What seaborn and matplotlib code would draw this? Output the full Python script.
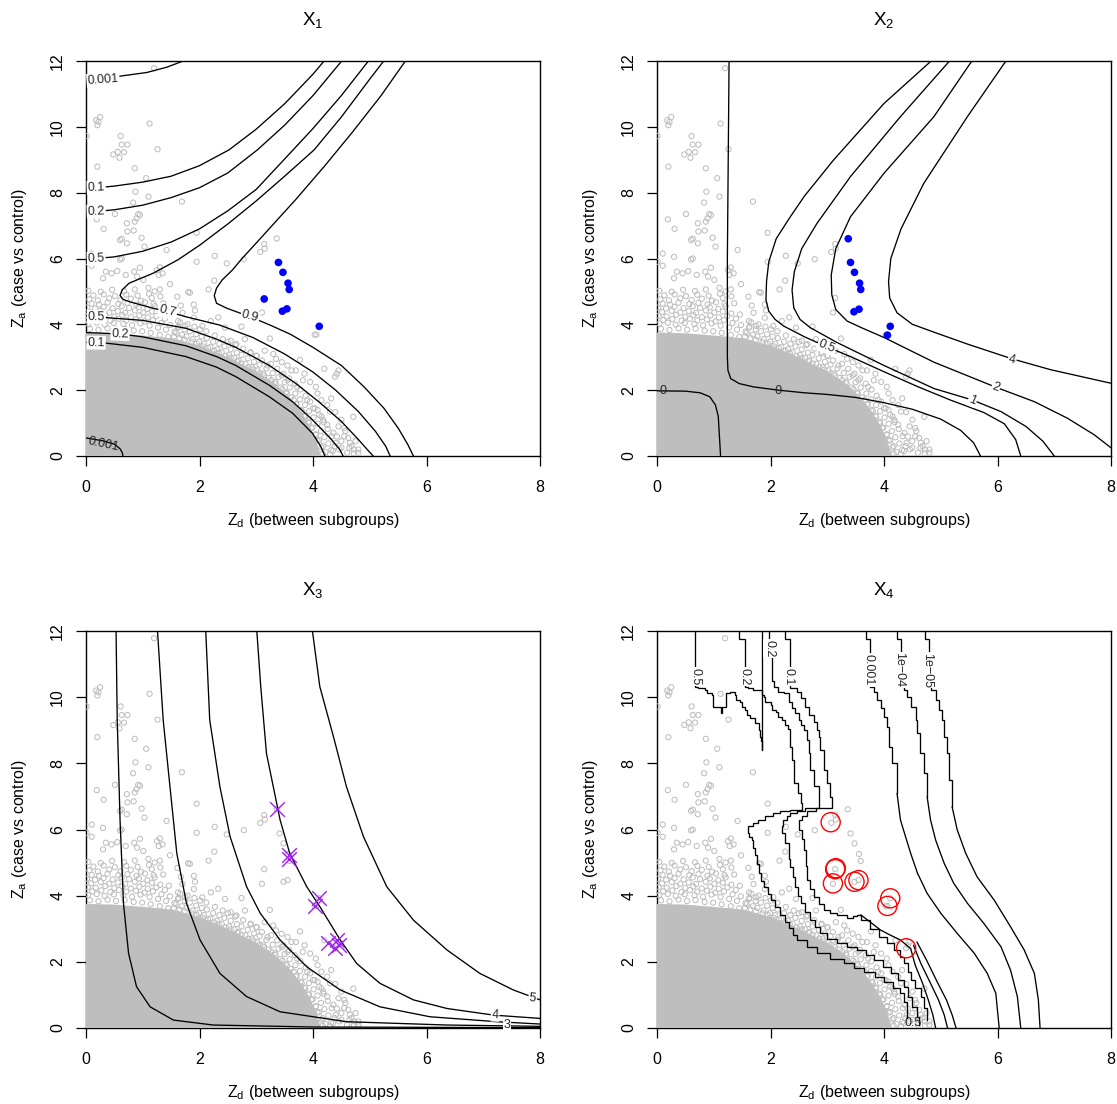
import matplotlib
matplotlib.use("Agg")
import matplotlib.pyplot as plt
import seaborn as sns
import pandas as pd

# ---------------------------------------------------------------
# Background SNP cloud (shared by all four panels)
# ---------------------------------------------------------------
core_outline = [(0, 0), (0, 3.75), (0.5, 3.73), (1.0, 3.66), (1.5, 3.58), (2.0, 3.36), (2.5, 3.0),
                (3.0, 2.57), (3.3, 2.24), (3.6, 1.77), (3.8, 1.32), (3.95, 0.88), (4.06, 0.45), (4.14, 0)]

edge_left = [
    (0.07, 3.86), (0.22, 3.83), (0.38, 3.88), (0.53, 3.84), (0.68, 3.87), (0.84, 3.81), (0.99, 3.79),
    (1.14, 3.74), (1.3, 3.68), (1.45, 3.62),
    (0.04, 4.02), (0.19, 4.05), (0.33, 3.99), (0.49, 4.04), (0.66, 4.01), (0.81, 3.97), (0.96, 4.03),
    (1.12, 3.96), (1.27, 3.9), (1.41, 3.84), (1.56, 3.78),
    (0.11, 4.13), (0.27, 4.16), (0.43, 4.11), (0.58, 4.17), (0.71, 4.12), (0.88, 4.15), (1.03, 4.09),
    (1.18, 4.13), (1.33, 4.04), (1.48, 3.98), (1.63, 3.93),
    (0.03, 4.26), (0.17, 4.24), (0.34, 4.29), (0.5, 4.23), (0.64, 4.28), (0.79, 4.22), (0.94, 4.27),
    (1.09, 4.21), (1.24, 4.25), (1.39, 4.17),
    (0.09, 4.37), (0.26, 4.41), (0.41, 4.36), (0.56, 4.4), (0.69, 4.35), (0.86, 4.42), (1.01, 4.36),
    (1.16, 4.39), (1.31, 4.33), (1.46, 4.3),
    (0.02, 4.51), (0.16, 4.48), (0.31, 4.53), (0.47, 4.49), (0.63, 4.55), (0.76, 4.5), (0.93, 4.52),
    (1.08, 4.47), (1.21, 4.55),
    (0.1, 4.63), (0.23, 4.6), (0.38, 4.66), (0.57, 4.62), (0.73, 4.65), (0.89, 4.6), (1.04, 4.67),
    (1.19, 4.62), (1.36, 4.64),
    (0.06, 4.76), (0.21, 4.73), (0.41, 4.79), (0.61, 4.74), (0.79, 4.78), (0.97, 4.72), (1.16, 4.8),
    (0.13, 4.88), (0.31, 4.91), (0.51, 4.86), (0.71, 4.9), (0.91, 4.87), (1.11, 4.93), (1.31, 4.85),
    (0.04, 5.02), (0.26, 4.99), (0.46, 5.05), (0.67, 5.01), (0.86, 5.06), (1.21, 5.0),
]

edge_rim = [
    (1.55, 3.63), (1.65, 3.58), (1.74, 3.53), (1.86, 3.47), (1.95, 3.42), (2.06, 3.33), (2.15, 3.28),
    (2.26, 3.19), (2.34, 3.13), (2.46, 3.04), (2.55, 2.98), (2.66, 2.88), (2.74, 2.81), (2.86, 2.7),
    (2.95, 2.63), (3.06, 2.52), (3.14, 2.44), (3.26, 2.31), (3.34, 2.2), (3.46, 2.03), (3.54, 1.9),
    (3.66, 1.7), (3.71, 1.57), (3.8, 1.37), (3.85, 1.22), (3.93, 1.0), (3.97, 0.86), (4.05, 0.64),
    (4.08, 0.47), (4.15, 0.26), (4.17, 0.07),
]

edge_mid = [
    (1.58, 3.74), (1.69, 3.68), (1.77, 3.63), (1.88, 3.55), (1.99, 3.47), (2.08, 3.41), (2.19, 3.31),
    (2.31, 3.24), (2.39, 3.15), (2.52, 3.07), (2.61, 2.98), (2.69, 2.9), (2.81, 2.8), (2.92, 2.7),
    (3.02, 2.6),
    (1.62, 3.9), (1.74, 3.84), (1.83, 3.79), (1.94, 3.7), (2.04, 3.63), (2.13, 3.58), (2.24, 3.47),
    (2.35, 3.41), (2.44, 3.33), (2.55, 3.24), (2.66, 3.14), (2.74, 3.07), (2.85, 2.97), (2.96, 2.86),
    (3.06, 2.78),
    (1.66, 4.06), (1.79, 4.0), (1.91, 3.93), (2.01, 3.85), (2.12, 3.79), (2.27, 3.66), (2.41, 3.55),
    (2.5, 3.47), (2.63, 3.37), (2.77, 3.26), (2.9, 3.13), (3.01, 3.04),
]

edge_right = [
    (3.12, 2.5), (3.22, 2.37), (3.33, 2.25), (3.43, 2.08), (3.52, 1.93), (3.61, 1.78), (3.7, 1.57),
    (3.78, 1.4), (3.86, 1.2), (3.92, 1.04), (3.99, 0.86), (4.05, 0.66), (4.11, 0.48), (4.17, 0.3),
    (4.22, 0.12),
    (3.18, 2.66), (3.29, 2.52), (3.39, 2.4), (3.5, 2.24), (3.59, 2.08), (3.69, 1.9), (3.77, 1.72),
    (3.86, 1.55), (3.93, 1.36), (4.01, 1.17), (4.08, 0.98), (4.14, 0.76), (4.2, 0.57), (4.27, 0.38),
    (4.32, 0.18),
    (3.26, 2.8), (3.37, 2.65), (3.48, 2.5), (3.58, 2.36), (3.68, 2.2), (3.78, 2.02), (3.87, 1.83),
    (3.95, 1.65), (4.03, 1.45), (4.11, 1.25), (4.19, 1.03), (4.26, 0.82), (4.33, 0.6), (4.4, 0.4),
    (4.46, 0.2),
]

edge_outer = [
    (1.62, 4.1), (1.7, 4.35), (1.75, 3.95), (1.9, 4.2), (2.05, 3.95), (2.2, 4.1), (2.45, 3.9),
    (2.55, 3.5), (2.65, 3.4), (2.8, 3.55), (2.9, 3.15), (3.0, 3.05), (3.1, 2.9), (3.2, 2.75),
    (3.35, 2.95), (3.45, 2.45), (3.55, 2.3), (3.62, 2.6), (3.72, 2.1), (3.82, 2.3), (3.9, 1.7),
    (4.0, 1.45), (4.08, 1.9), (4.15, 1.2), (4.25, 0.95), (4.3, 1.35), (4.35, 0.15), (4.45, 0.9),
    (4.5, 0.25), (4.55, 0.6), (4.6, 0.1), (4.65, 0.4), (4.72, 0.2), (4.8, 0.1),
    (4.3, 0.05), (4.38, 0.3), (4.36, 0.7), (4.5, 0.45), (4.55, 0.85), (4.62, 0.55), (4.68, 0.3),
    (4.75, 0.45), (4.5, 1.1), (4.25, 1.55), (4.32, 1.75), (4.15, 1.7), (4.05, 2.1), (3.95, 2.25),
    (3.85, 2.5), (3.7, 2.6), (3.55, 2.75), (3.45, 2.85), (3.3, 3.1), (3.15, 3.2),
]

outlier_snps = [
    (1.20, 11.78), (0.18, 10.2), (0.25, 10.3), (0.2, 10.05), (0.22, 10.15), (1.12, 10.1), (0.01, 9.72),
    (0.61, 9.72), (0.63, 9.46), (0.73, 9.46), (0.48, 9.16), (0.59, 9.06), (0.67, 9.23), (0.56, 9.24),
    (0.2, 8.79), (1.26, 9.32), (0.86, 8.74), (1.06, 8.44), (0.87, 8.03), (1.1, 7.88), (1.69, 7.73),
    (0.83, 7.70), (0.92, 7.35), (0.89, 7.22), (0.95, 7.32), (0.51, 7.35), (0.19, 7.19), (0.72, 7.07),
    (0.86, 7.12), (0.31, 6.9), (0.73, 6.82), (0.84, 6.85), (1.95, 6.78), (0.6, 6.56), (0.63, 6.6),
    (0.98, 6.63), (0.72, 6.46), (1.03, 6.36), (1.42, 6.26), (3.14, 6.44), (3.36, 6.61), (3.07, 6.2),
    (3.15, 6.3), (0.63, 6.0), (0.6, 5.97), (1.95, 5.9), (2.27, 6.08), (2.78, 5.98), (2.48, 5.85),
    (0.01, 5.9), (0.1, 5.78), (0.35, 5.6), (0.45, 5.55), (0.55, 5.62), (0.3, 5.4), (0.7, 5.5),
    (0.85, 5.6), (0.9, 5.45), (1.3, 5.73), (1.25, 5.65), (1.35, 5.55), (1.28, 5.5), (0.95, 5.72),
    (1.48, 5.22), (1.1, 5.11), (1.3, 5.06), (1.01, 5.35), (2.26, 5.33), (2.16, 5.06), (1.8, 4.98),
    (1.83, 4.96), (1.61, 4.84), (1.9, 4.6), (1.92, 4.42), (1.67, 4.57), (2.33, 4.21), (3.1, 4.36),
    (2.74, 3.93), (4.03, 3.68), (3.24, 3.57), (3.77, 2.92), (4.2, 2.65), (4.45, 2.6), (4.42, 2.5),
    (4.39, 1.33), (4.71, 1.19), (4.57, 0.76), (4.42, 0.59), (4.8, 0.2), (4.72, 0.08), (4.64, 0.25),
    (4.08, 1.4), (4.18, 1.1), (0.1, 6.15), (0.3, 6.05), (3.41, 5.88), (3.48, 5.58), (3.56, 5.26),
    (3.59, 5.05), (3.14, 4.8), (3.48, 4.42), (3.55, 4.47), (4.11, 3.92), (4.06, 3.69), (4.39, 2.41),
]

# ---------------------------------------------------------------
# Highlighted SNPs for each model
# ---------------------------------------------------------------
x1_hits = [(3.39, 5.88), (3.47, 5.58), (3.56, 5.25), (3.58, 5.06), (3.14, 4.77),
           (3.46, 4.40), (3.54, 4.47), (4.11, 3.94)]
x2_hits = [(3.37, 6.60), (3.41, 5.88), (3.48, 5.58), (3.57, 5.25), (3.59, 5.06),
           (3.47, 4.38), (3.56, 4.46), (4.11, 3.94), (4.06, 3.67)]
x3_hits = [(3.36, 6.61), (3.57, 5.23), (3.58, 5.10), (4.11, 3.94), (4.04, 3.70),
           (4.27, 2.58), (4.42, 2.66), (4.45, 2.51), (4.38, 2.41)]
x4_hits = [(3.06, 6.22), (3.14, 4.80), (3.15, 4.83), (3.10, 4.37), (3.48, 4.42),
           (3.55, 4.47), (4.11, 3.92), (4.06, 3.69), (4.39, 2.41)]

# ---------------------------------------------------------------
# Contour lines, model X1
# ---------------------------------------------------------------
x1_p001_top = [(0, 11.35), (0.3, 11.45), (0.6, 11.54), (1.07, 11.65), (1.42, 11.81), (1.76, 12.03)]
x1_p001_bot = [(0, 0.55), (0.3, 0.46), (0.5, 0.36), (0.6, 0.22), (0.64, 0.1), (0.65, 0)]
x1_p1_up = [(0, 8.12), (0.5, 8.2), (1.0, 8.32), (1.5, 8.5), (2.0, 8.82), (2.52, 9.3), (3.0, 9.93),
            (3.5, 10.7), (4.0, 11.6), (4.21, 12.03)]
x1_p2_up = [(0, 7.4), (0.5, 7.48), (1.0, 7.62), (1.5, 7.85), (2.0, 8.15), (2.5, 8.6), (3.02, 9.3),
            (3.5, 10.05), (4.0, 10.95), (4.52, 12.03)]
x1_p5_up = [(0, 5.97), (0.5, 6.05), (1.0, 6.22), (1.5, 6.5), (2.0, 6.9), (2.5, 7.45), (3.0, 8.1),
            (3.65, 9.3), (4.0, 9.95), (4.5, 10.95), (4.99, 12.03)]
x1_p1_lo = [(0, 3.45), (0.3, 3.44), (1.0, 3.3), (1.76, 3.02), (2.3, 2.7), (2.64, 2.41), (3.23, 1.8),
            (3.64, 1.3), (3.99, 0.69), (4.14, 0.28), (4.21, 0)]
x1_p2_lo = [(0, 3.75), (0.59, 3.71), (1.0, 3.62), (1.76, 3.35), (2.3, 3.02), (2.64, 2.75), (3.23, 2.15),
            (3.64, 1.65), (3.99, 1.1), (4.3, 0.55), (4.47, 0.2), (4.53, 0)]
x1_p5_lo = [(0, 4.25), (1.0, 4.12), (1.76, 3.88), (2.3, 3.55), (2.64, 3.3), (3.23, 2.75), (3.7, 2.2),
            (4.1, 1.65), (4.5, 1.05), (4.8, 0.5), (4.98, 0.15), (5.06, 0)]
x1_p7 = [(5.26, 12.03), (5.0, 11.45), (4.5, 10.3), (4.02, 9.3), (3.5, 8.5), (3.0, 7.75), (2.5, 7.05),
         (2.0, 6.4), (1.62, 5.96), (1.18, 5.55), (0.76, 5.25), (0.64, 5.05), (0.6, 4.88), (0.65, 4.76),
         (0.76, 4.69), (1.18, 4.49), (1.44, 4.39), (1.76, 4.23), (2.35, 3.98), (2.94, 3.6), (3.5, 3.1),
         (4.0, 2.55), (4.4, 2.0), (4.8, 1.35), (5.1, 0.75), (5.28, 0.3), (5.36, 0)]
x1_p9 = [(5.64, 12.03), (5.2, 10.95), (4.7, 9.85), (4.2, 8.8), (3.7, 7.8), (3.2, 6.85), (2.73, 5.96),
         (2.58, 5.65), (2.4, 5.35), (2.3, 5.1), (2.26, 4.87), (2.3, 4.64), (2.48, 4.49), (2.89, 4.23),
         (3.24, 3.98), (3.6, 3.7), (4.0, 3.3), (4.5, 2.75), (4.9, 2.1), (5.25, 1.45), (5.5, 0.85),
         (5.67, 0.35), (5.77, 0)]
x1_labels = [("0.001", 0.3, 11.43, 4, True), ("0.1", 0.18, 8.15, 2, True), ("0.2", 0.18, 7.43, 2, True),
             ("0.5", 0.18, 6.0, 2, True), ("0.5", 0.18, 4.23, -1, True), ("0.2", 0.6, 3.71, -2, True),
             ("0.1", 0.18, 3.44, -1, True), ("0.7", 1.44, 4.39, -14, True), ("0.9", 2.89, 4.23, -15, True),
             ("0.001", 0.3, 0.36, -12, False)]

# ---------------------------------------------------------------
# Contour lines, model X2
# ---------------------------------------------------------------
x2_c0_main = [(1.27, 12.03), (1.26, 10.0), (1.25, 8.0), (1.24, 6.0), (1.24, 4.0), (1.24, 3.0),
              (1.25, 2.6), (1.3, 2.35), (1.45, 2.2), (1.7, 2.1), (2.14, 2.0), (2.6, 1.92), (3.0, 1.87),
              (3.5, 1.78), (4.0, 1.62), (4.5, 1.42), (5.0, 1.12), (5.35, 0.78), (5.58, 0.4), (5.7, 0)]
x2_c0_small = [(0, 1.98), (0.5, 1.97), (0.76, 1.92), (0.93, 1.8), (1.03, 1.55), (1.08, 1.2),
               (1.1, 0.6), (1.12, 0)]
x2_c05 = [(4.85, 12.03), (4.0, 10.71), (3.11, 8.99), (2.6, 7.9), (2.35, 7.27), (2.1, 6.6), (1.97, 5.9),
          (1.93, 5.3), (1.92, 4.74), (1.97, 4.4), (2.08, 4.15), (2.23, 3.95), (2.6, 3.62), (2.99, 3.32),
          (3.41, 3.02), (4.0, 2.56), (4.59, 2.11), (5.17, 1.7), (5.76, 1.32), (6.12, 0.98), (6.32, 0.5),
          (6.41, 0)]
x2_c1 = [(5.17, 12.03), (4.29, 10.31), (3.41, 8.49), (2.82, 7.07), (2.55, 6.3), (2.42, 5.6), (2.38, 5.04),
         (2.41, 4.5), (2.52, 4.15), (2.7, 3.9), (3.17, 3.45), (4.0, 2.75), (4.88, 2.05), (5.56, 1.7),
         (6.06, 1.35), (6.5, 0.9), (6.8, 0.45), (7.0, 0)]
x2_c2 = [(5.56, 12.03), (4.88, 10.31), (4.0, 8.59), (3.41, 7.27), (3.15, 6.3), (3.07, 5.5), (3.08, 4.9),
         (3.15, 4.45), (3.35, 4.1), (3.6, 3.9), (4.0, 3.6), (4.88, 2.85), (5.97, 2.09), (6.65, 1.65),
         (7.23, 1.15), (7.7, 0.65), (8.0, 0.25)]
x2_c4 = [(6.16, 12.03), (5.47, 10.31), (4.7, 8.28), (4.3, 6.9), (4.12, 6.0), (4.08, 5.3), (4.1, 4.8),
         (4.23, 4.35), (4.5, 4.0), (4.9, 3.75), (5.47, 3.4), (6.26, 2.95), (6.94, 2.62), (8.0, 2.21)]
x2_labels = [("0", 0.11, 1.98, 0, False), ("0", 2.14, 1.98, -2, False), ("0.5", 2.99, 3.32, -22, True),
             ("1", 5.56, 1.70, -22, True), ("2", 5.97, 2.09, -20, True), ("4", 6.26, 2.93, -13, True)]

# ---------------------------------------------------------------
# Contour lines, model X3
# ---------------------------------------------------------------
x3_c1 = [(0.53, 12.0), (0.55, 9.31), (0.6, 6.29), (0.66, 3.77), (0.75, 2.26), (0.89, 1.25),
         (1.13, 0.64), (1.54, 0.24), (2.24, 0.09), (4.0, 0.03), (8.0, 0.01)]
x3_c2 = [(1.26, 12.0), (1.36, 9.31), (1.48, 7.29), (1.6, 5.28), (1.77, 3.77), (2.01, 2.66), (2.36, 1.65),
         (2.83, 0.95), (3.42, 0.49), (4.59, 0.19), (6.36, 0.09), (8.0, 0.05)]
x3_c3 = [(2.11, 12.0), (2.18, 9.31), (2.36, 7.29), (2.54, 5.78), (2.83, 4.27), (3.07, 3.47), (3.42, 2.66),
         (3.89, 1.85), (4.48, 1.15), (5.18, 0.64), (6.06, 0.34), (7.24, 0.19), (8.0, 0.12)]
x3_c4 = [(3.01, 12.0), (3.08, 10.3), (3.18, 8.3), (3.42, 6.29), (3.59, 5.28), (3.89, 4.27), (4.12, 3.67),
         (4.48, 2.66), (4.77, 1.95), (5.18, 1.35), (5.77, 0.85), (6.36, 0.59), (7.18, 0.39), (8.0, 0.29)]
x3_c5 = [(3.99, 12.0), (4.12, 10.32), (4.36, 8.81), (4.59, 7.29), (4.89, 5.78), (5.3, 4.27), (5.77, 3.26),
         (6.36, 2.36), (6.94, 1.65), (7.53, 1.15), (8.0, 0.85)]
x3_labels = [("5", 7.87, 0.9, -6, True), ("4", 7.21, 0.4, -3, True), ("3", 7.42, 0.1, 0, True)]

# ---------------------------------------------------------------
# Contour lines, model X4 (empirical surface on a coarse grid)
# ---------------------------------------------------------------
x4_j0 = [(0.67, 12.0), (0.67, 10.3), (0.73, 10.27), (0.85, 10.22), (0.88, 10.12), (0.97, 10.07),
         (0.98, 9.71), (1.11, 9.69), (1.13, 9.51), (1.14, 9.69), (1.2, 9.71), (1.22, 10.12),
         (1.29, 10.17), (1.38, 10.07), (1.39, 9.92), (1.47, 9.86), (1.5, 9.71), (1.55, 9.61),
         (1.59, 9.46), (1.64, 9.36), (1.73, 9.21), (1.79, 9.01), (1.82, 8.81), (1.84, 8.66), (1.85, 8.4)]
x4_vert = [(1.85, 12.0), (1.85, 8.4)]
x4_j1 = [(1.45, 12.0), (1.45, 11.75), (1.55, 11.75), (1.55, 10.3), (1.61, 10.27), (1.7, 10.22),
         (1.85, 10.07), (1.89, 10.02), (1.91, 9.86), (2.0, 9.76), (2.03, 9.61), (2.1, 9.56), (2.13, 9.39),
         (2.2, 9.31), (2.26, 9.16), (2.3, 9.03), (2.34, 8.91), (2.35, 8.5), (2.38, 8.1), (2.41, 7.4),
         (2.48, 7.09), (2.53, 6.79), (2.56, 6.6), (2.45, 6.6), (2.35, 6.55), (2.17, 6.5), (2.05, 6.4),
         (1.91, 6.29), (1.78, 6.2), (1.7, 6.1), (1.61, 5.9), (1.62, 5.78), (1.67, 5.68), (1.7, 5.45),
         (1.73, 5.23), (1.76, 4.95), (1.79, 4.68), (1.84, 4.45), (1.88, 4.27), (1.95, 4.05), (2.0, 3.87),
         (2.08, 3.65), (2.17, 3.42), (2.25, 3.2), (2.32, 3.01), (2.4, 2.8), (2.47, 2.66), (2.65, 2.45),
         (2.82, 2.26), (3.05, 2.1), (3.29, 1.95), (3.48, 1.82), (3.65, 1.7), (3.85, 1.55), (4.0, 1.4),
         (4.15, 1.22), (4.29, 1.05), (4.35, 0.8), (4.41, 0.54), (4.41, 0.3)]
x4_j2 = [(1.97, 12.0), (1.97, 11.7), (2.0, 11.2), (2.02, 10.5), (2.06, 10.32), (2.14, 10.17),
         (2.23, 10.12), (2.32, 9.86), (2.38, 9.66), (2.44, 9.51), (2.5, 9.31), (2.53, 9.16), (2.59, 9.01),
         (2.64, 8.71), (2.67, 8.3), (2.7, 7.8), (2.76, 7.3), (2.85, 6.65), (2.7, 6.65), (2.6, 6.55),
         (2.47, 6.49), (2.35, 6.4), (2.29, 6.29), (2.22, 6.1), (2.2, 5.88), (2.26, 5.6), (2.32, 5.38),
         (2.33, 5.1), (2.35, 4.88), (2.4, 4.55), (2.44, 4.27), (2.48, 4.0), (2.53, 3.77), (2.6, 3.5),
         (2.7, 3.26), (2.78, 3.05), (2.88, 2.86), (3.0, 2.7), (3.17, 2.56), (3.35, 2.45), (3.53, 2.36),
         (3.68, 2.22), (3.82, 2.06), (3.98, 1.85), (4.12, 1.65), (4.25, 1.45), (4.35, 1.25), (4.42, 0.95),
         (4.5, 0.64), (4.59, 0.34), (4.62, 0.1)]
x4_j3 = [(2.25, 12.0), (2.25, 11.75), (2.34, 11.75), (2.34, 10.95), (2.35, 10.27), (2.47, 10.17),
         (2.53, 9.97), (2.61, 9.71), (2.67, 9.46), (2.76, 9.26), (2.82, 9.01), (2.85, 8.81), (2.88, 8.4),
         (2.94, 7.8), (3.0, 7.4), (3.05, 6.99), (3.09, 6.65), (2.95, 6.65), (2.8, 6.55), (2.65, 6.4),
         (2.56, 6.29), (2.5, 5.99), (2.55, 5.7), (2.59, 5.38), (2.62, 4.9), (2.65, 4.47), (2.7, 4.2),
         (2.76, 3.97), (2.85, 3.75), (2.94, 3.57), (3.05, 3.48), (3.17, 3.42), (3.35, 3.32), (3.45, 3.38),
         (3.53, 3.42), (3.59, 3.26), (3.75, 3.0), (3.91, 2.76), (4.05, 2.56), (4.18, 2.36), (4.28, 2.15),
         (4.35, 1.95), (4.42, 1.7), (4.47, 1.45), (4.55, 1.2), (4.65, 0.95), (4.7, 0.6), (4.76, 0.24)]
x4_link = [(3.59, 3.42), (3.76, 3.2), (3.94, 2.96), (4.12, 2.8), (4.29, 2.66), (4.47, 2.4)]
x4_s1 = [(4.47, 2.4), (4.55, 1.9), (4.68, 1.35), (4.78, 0.85), (4.86, 0.4), (4.91, 0)]
x4_s2 = [(4.52, 2.5), (4.65, 1.95), (4.82, 1.35), (4.96, 0.85), (5.06, 0.4), (5.12, 0)]
x4_s3 = [(4.58, 2.6), (4.75, 2.05), (4.95, 1.35), (5.1, 0.85), (5.2, 0.4), (5.27, 0)]
x4_f3 = [(3.69, 12.0), (3.69, 11.75), (3.75, 11.75), (3.76, 10.32), (3.82, 10.17), (3.88, 9.91),
         (3.94, 9.66), (4.0, 9.41), (4.06, 9.11), (4.08, 8.5), (4.14, 8.0), (4.23, 7.09), (4.29, 6.29),
         (4.38, 5.78), (4.47, 5.28), (4.59, 4.68), (4.76, 4.07), (5.0, 3.47), (5.29, 2.86), (5.59, 2.26),
         (5.82, 1.65), (5.97, 1.05), (6.03, 0)]
x4_f4 = [(4.23, 12.0), (4.23, 11.75), (4.29, 11.75), (4.3, 10.35), (4.35, 10.22), (4.41, 10.02),
         (4.47, 9.71), (4.56, 9.31), (4.59, 8.91), (4.64, 8.3), (4.7, 7.7), (4.76, 6.99), (4.82, 6.29),
         (4.91, 5.68), (5.06, 4.98), (5.23, 4.37), (5.47, 3.77), (5.76, 3.16), (6.06, 2.46), (6.23, 1.75),
         (6.35, 0.95), (6.41, 0)]
x4_f5 = [(4.73, 12.0), (4.73, 11.75), (4.78, 11.75), (4.79, 10.35), (4.82, 10.22), (4.91, 9.91),
         (4.97, 9.61), (5.03, 9.31), (5.06, 8.81), (5.11, 8.3), (5.14, 7.5), (5.2, 6.69), (5.29, 5.99),
         (5.44, 5.28), (5.64, 4.57), (5.94, 3.87), (6.23, 3.06), (6.47, 2.36), (6.65, 1.65), (6.72, 0.85),
         (6.75, 0)]
x4_labels = [("0.5", 0.67, 10.62, -90, True), ("0.2", 1.55, 10.62, -90, True),
             ("0.2", 1.99, 11.48, -90, True), ("0.1", 2.32, 10.62, -90, True),
             ("0.001", 3.73, 10.82, -90, True), ("1e\u221204", 4.26, 10.82, -90, True),
             ("1e\u221205", 4.75, 10.82, -90, True), ("0.5", 4.52, 0.14, 0, False)]

# ---------------------------------------------------------------
# Styling
# ---------------------------------------------------------------
sns.set_theme(style="white")
plt.rcParams["font.family"] = ["Liberation Sans", "DejaVu Sans"]
plt.rcParams["mathtext.fontset"] = "custom"
plt.rcParams["mathtext.rm"] = "Liberation Sans"
plt.rcParams["mathtext.it"] = "Liberation Sans:italic"

GREY = "#BEBEBE"
LINE_W = 0.95
STEP_LIMIT = 6.5   # the far-tail curves are drawn as staircases above this Z_a


def as_frame(points):
    return pd.DataFrame(points, columns=["zd", "za"])


def draw_background(ax):
    core = as_frame(core_outline)
    ax.fill(core["zd"], core["za"], color=GREY, lw=0, zorder=2.6)
    groups = (edge_left, edge_rim, edge_mid, edge_right, edge_outer, outlier_snps)
    cloud = pd.concat([as_frame(p) for p in groups], ignore_index=True)
    sns.scatterplot(data=cloud, x="zd", y="za", ax=ax, s=14, marker="o", legend=False, zorder=2.7)
    coll = ax.collections[-1]
    coll.set_facecolor("none")
    coll.set_edgecolor(GREY)
    coll.set_linewidth(0.75)


def plot_line(ax, df, stepped=False):
    ax.plot(df["zd"], df["za"], color="black", lw=LINE_W, zorder=3,
            drawstyle="steps-post" if stepped else "default", solid_joinstyle="miter")


def draw_curves(ax, curves, stepped=False):
    for pts in curves:
        plot_line(ax, as_frame(pts), stepped=stepped)


def draw_tail_curves(ax, curves):
    # upper part as a staircase, smooth lower part as a polyline
    for pts in curves:
        df = as_frame(pts)
        below = df.index[df["za"] < STEP_LIMIT]
        cut = int(below[0]) if len(below) else len(df)
        plot_line(ax, df.iloc[:cut], stepped=True)
        if cut < len(df):
            plot_line(ax, df.iloc[max(cut - 1, 0):])


def draw_labels(ax, labels):
    for text, x, y, rot, boxed in labels:
        kw = dict(bbox=dict(fc="white", ec="none", pad=0.6)) if boxed else {}
        ax.text(x, y, text, fontsize=9, rotation=rot, ha="center", va="center",
                rotation_mode="anchor", zorder=4, **kw)


def style_axes(ax, idx):
    ax.set_xlim(0, 8)
    ax.set_ylim(0, 12)
    ax.set_xticks([0, 2, 4, 6, 8])
    ax.set_yticks([0, 2, 4, 6, 8, 10, 12])
    for sp in ax.spines.values():
        sp.set_visible(True)
        sp.set_color("black")
        sp.set_linewidth(1.0)
    ax.tick_params(axis="both", direction="out", length=7, width=0.9, color="black",
                   labelsize=11.5, labelcolor="black", bottom=True, left=True)
    ax.tick_params(axis="x", pad=10)
    ax.tick_params(axis="y", pad=8, labelrotation=90)
    for lbl in ax.get_yticklabels():
        lbl.set_va("center")
    ax.set_title(r"$\mathregular{X_%d}$" % idx, fontsize=13.5, pad=26, color="black")
    ax.set_xlabel(r"$\mathregular{Z_d}$ (between subgroups)", fontsize=11.5, labelpad=12, color="black")
    ax.set_ylabel(r"$\mathregular{Z_a}$ (case vs control)", fontsize=11.5, labelpad=15, color="black")
    ax.grid(False)


fig = plt.figure(figsize=(11.17, 11.04), dpi=100)
W, H = 1117.0, 1104.0
boxes = [(86, 61, 540, 456), (657, 61, 1111, 456), (86, 631, 540, 1028), (657, 631, 1111, 1028)]
axes = []
for (l, t, r, b) in boxes:
    axes.append(fig.add_axes([l / W, 1 - b / H, (r - l) / W, (b - t) / H]))

# X1
ax = axes[0]
draw_background(ax)
draw_curves(ax, [x1_p001_top, x1_p001_bot, x1_p1_up, x1_p2_up, x1_p5_up,
                 x1_p1_lo, x1_p2_lo, x1_p5_lo, x1_p7, x1_p9])
draw_labels(ax, x1_labels)
h = as_frame(x1_hits)
sns.scatterplot(data=h, x="zd", y="za", ax=ax, color="#0000FF", s=30, edgecolor="none",
                legend=False, zorder=5)
style_axes(ax, 1)

# X2
ax = axes[1]
draw_background(ax)
draw_curves(ax, [x2_c0_main, x2_c0_small, x2_c05, x2_c1, x2_c2, x2_c4])
draw_labels(ax, x2_labels)
h = as_frame(x2_hits)
sns.scatterplot(data=h, x="zd", y="za", ax=ax, color="#0000FF", s=30, edgecolor="none",
                legend=False, zorder=5)
style_axes(ax, 2)

# X3
ax = axes[2]
draw_background(ax)
draw_curves(ax, [x3_c1, x3_c2, x3_c3, x3_c4, x3_c5])
draw_labels(ax, x3_labels)
h = as_frame(x3_hits)
sns.scatterplot(data=h, x="zd", y="za", ax=ax, color="#A020F0", s=110, marker="x",
                linewidth=1.0, legend=False, zorder=5)
style_axes(ax, 3)

# X4
ax = axes[3]
draw_background(ax)
draw_curves(ax, [x4_j0, x4_j1, x4_j2, x4_j3], stepped=True)
draw_tail_curves(ax, [x4_f3, x4_f4, x4_f5])
draw_curves(ax, [x4_vert, x4_link, x4_s1, x4_s2, x4_s3])
draw_labels(ax, x4_labels)
h = as_frame(x4_hits)
sns.scatterplot(data=h, x="zd", y="za", ax=ax, s=190, marker="o", legend=False, zorder=5)
coll = ax.collections[-1]
coll.set_facecolor("none")
coll.set_edgecolor("#FF0000")
coll.set_linewidth(1.0)
style_axes(ax, 4)

fig.savefig("out.png", dpi=100, facecolor="white")
